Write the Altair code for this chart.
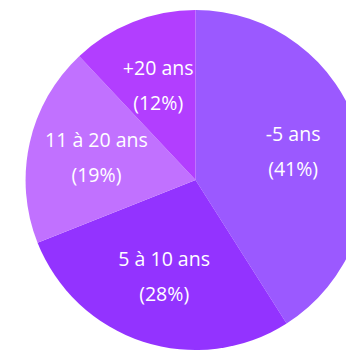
import altair as alt
import pandas as pd

categories = ["-5 ans", "5 à 10 ans", "11 à 20 ans", "+20 ans"]
values = [41, 28, 19, 12]
colors = ["#9B59FF", "#9333FF", "#C171FF", "#B23EFF"]

df = pd.DataFrame({"cat": categories, "value": values, "order": list(range(len(categories)))})
df["pct"] = ["(" + str(v) + "%)" for v in values]

cx, cy, R = 192, 172, 174

base = alt.Chart(df).encode(
    theta=alt.Theta("value:Q", stack=True),
    order=alt.Order("order:Q"),
    x=alt.value(cx),
    y=alt.value(cy),
)

arcs = base.mark_arc(radius=R).encode(
    color=alt.Color("cat:N", scale=alt.Scale(domain=categories, range=colors), legend=None)
)

font = "Open Sans"
names = base.mark_text(radius=104, dy=-17, fontSize=20, font=font, color="white").encode(text="cat:N")
pcts = base.mark_text(radius=104, dy=19, fontSize=20, font=font, color="white").encode(text="pct:N")

chart = (arcs + names + pcts).properties(
    width=346, height=349, padding=0, autosize=alt.AutoSizeParams(type="none")
).configure_view(stroke=None)

chart.save("out.html", embed_options={"renderer": "svg", "actions": False})
